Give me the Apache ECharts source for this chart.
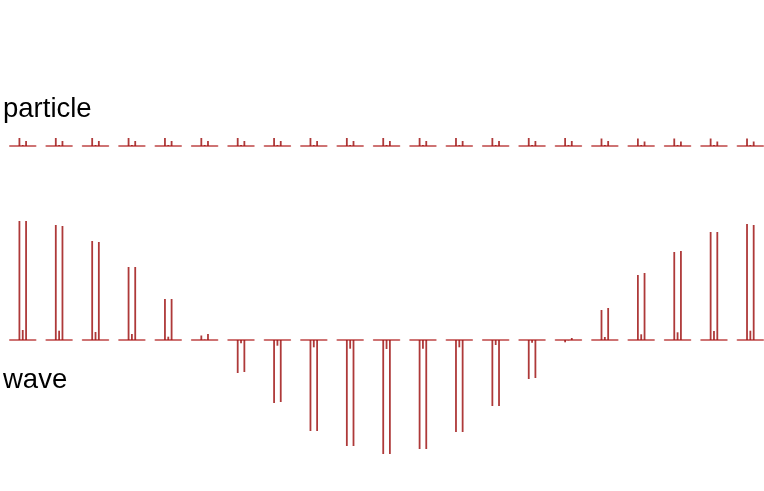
<!DOCTYPE html>
<html>
<head>
<meta charset="utf-8">
<script src="https://cdn.jsdelivr.net/npm/echarts@6/dist/echarts.min.js"></script>
<style>html,body{margin:0;padding:0;background:#fff}#c{width:764px;height:491px}</style>
</head>
<body>
<div id="c"></div>
<script>
var rowLabels = ['particle', 'wave'];
var waveLeft  = [119, 115, 99, 73, 41, 4.5, -33, -63, -91, -106, -114, -109, -92, -66, -39, -2.3, 30, 65, 88, 108, 116];
var waveMid   = [10, 9.3, 8, 6, 3.3, 0.5, -3.3, -5.7, -7.3, -8.7, -9, -8.7, -7.3, -5, -2.7, -0.3, 3, 5.7, 7.7, 9, 9.3];
var waveRight = [119, 114, 98, 73, 41, 6, -32, -62, -91, -106, -114, -109, -92, -66, -38, 2, 32, 67, 89, 108, 115];
var particleLeft  = [8, 8, 8, 8, 8, 8, 8, 8, 8, 8, 8, 8, 8, 8, 8, 8, 7.5, 7.5, 7.5, 7.5, 7.5];
var particleMid   = [1, 1, 1, 1, 1, 1, 1, 1, 1, 1, 1, 1, 1, 1, 1, 1, 1, 1, 1, 1, 1];
var particleRight = [5, 5, 5, 5, 5, 5, 5, 5, 5, 5, 5, 5, 5, 5, 5, 5, 5, 4.5, 4.5, 4.5, 4.5];

var N = waveLeft.length;
var grids = [], xAxes = [], yAxes = [], series = [];
var barColor = 'rgba(160,22,22,0.85)';
var rows = [
  {top: 116, height: 40, min: -10, max: 30, data: [particleLeft, particleMid, particleRight]},
  {top: 200, height: 260, min: -120, max: 140, data: [waveLeft, waveMid, waveRight]}
];
var idx = 0;
rows.forEach(function (row) {
  for (var i = 0; i < N; i++) {
    grids.push({left: 10 + 36.38 * i, width: 25.5, top: row.top, height: row.height});
    xAxes.push({
      gridIndex: idx, type: 'category', data: [''],
      axisTick: {show: false}, axisLabel: {show: false}, splitLine: {show: false},
      axisLine: {show: true, onZero: true, lineStyle: {color: 'rgba(180,40,40,0.65)', width: 2}}
    });
    yAxes.push({gridIndex: idx, type: 'value', min: row.min, max: row.max, show: false, splitLine: {show: false}});
    for (var s = 0; s < 3; s++) {
      series.push({
        type: 'bar', xAxisIndex: idx, yAxisIndex: idx,
        data: [row.data[s][i]],
        barWidth: 1.8, barGap: '85%',
        itemStyle: {color: barColor},
        silent: true
      });
    }
    idx++;
  }
});

var chart = echarts.init(document.getElementById('c'));
chart.setOption({
  animation: false,
  backgroundColor: '#fff',
  title: [
    {text: rowLabels[0], left: -2, top: 90, textStyle: {fontSize: 27.5, fontWeight: 'normal', color: '#000', fontFamily: 'Liberation Sans, Arial, sans-serif'}},
    {text: rowLabels[1], left: -2, top: 361, textStyle: {fontSize: 27.5, fontWeight: 'normal', color: '#000', fontFamily: 'Liberation Sans, Arial, sans-serif'}}
  ],
  grid: grids,
  xAxis: xAxes,
  yAxis: yAxes,
  series: series
});
</script>
</body>
</html>
